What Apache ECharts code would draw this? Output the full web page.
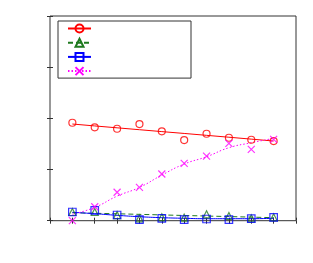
<!DOCTYPE html>
<html><head><meta charset="utf-8">
<script src="https://cdn.jsdelivr.net/npm/echarts@6/dist/echarts.min.js"></script>
<style>html,body{margin:0;padding:0;background:#fff}#c{width:313px;height:263px}</style>
</head><body><div id="c"></div>
<script>
const xs = [1,2,3,4,5,6,7,8,9,10];
const redPts = [1.914,1.824,1.797,1.889,1.746,1.576,1.699,1.621,1.582,1.556];
const redFit = [1.889,1.852,1.815,1.778,1.741,1.705,1.668,1.631,1.594,1.557];
const greenPts = [0.17,0.17,0.11,0.047,0.066,0.059,0.125,0.092,0.047,0.066];
const greenFit = [0.156,0.145,0.135,0.124,0.113,0.102,0.091,0.081,0.07,0.059];
const bluePts = [0.17,0.203,0.111,0.02,0.047,0.02,0.033,0.02,0.039,0.066];
const blueFit = [0.164,0.137,0.105,0.078,0.059,0.047,0.039,0.039,0.039,0.047];
const magPts = [0,0.273,0.555,0.652,0.912,1.12,1.263,1.511,1.394,1.589];
const magFit = [0.125,0.26,0.48,0.651,0.891,1.107,1.25,1.426,1.523,1.609];
const names = ['a','b','c','d'];

const pair = arr => xs.map((x,i)=>[x,arr[i]]);
const chart = echarts.init(document.getElementById('c'));
const groups = [
  {name:names[0], color:'#ff0000', sym:'circle', size:7, pts:redPts, fit:redFit, type:'solid', smooth:false},
  {name:names[1], color:'#1f7a1f', sym:'triangle', size:7, pts:greenPts, fit:greenFit, type:[5,3], smooth:false},
  {name:names[2], color:'#0000ff', sym:'rect', size:7.5, pts:bluePts, fit:blueFit, type:'solid', smooth:true},
  {name:names[3], color:'#ff00ff', sym:'path://M0,0L10,10M10,0L0,10', size:7, pts:magPts, fit:magFit, type:[1.5,2], smooth:true}
];
const series = [];
groups.forEach(g=>{
  series.push({name:g.name, type:'line', data:pair(g.fit), showSymbol:false, symbol:g.sym, symbolSize:g.size,
    smooth:g.smooth, lineStyle:{color:g.color,width:1,type:g.type},
    itemStyle:{color:'transparent',borderColor:g.color,borderWidth:1}, silent:true, z:2});
  series.push({name:g.name+'_m', type:'scatter', data:pair(g.pts), symbol:g.sym, symbolSize:g.size,
    itemStyle:{color:'transparent',borderColor:g.color,borderWidth:1.2}, z:3});
});
chart.setOption({
  animation:false,
  grid:{left:50, top:16, width:246, height:204.7, show:true, borderColor:'#333', borderWidth:1, backgroundColor:'transparent'},
  legend:{data:names, orient:'vertical', left:58, top:21, itemWidth:23, itemHeight:10, itemGap:4.2,
    padding:[2.5,99,2,9], borderColor:'#333', borderWidth:1, backgroundColor:'#fff',
    formatter:()=>'', textStyle:{fontSize:6}, selectedMode:false},
  xAxis:[
    {type:'value', min:0, max:11, interval:1, axisLine:{show:false}, axisLabel:{show:false}, splitLine:{show:false},
     axisTick:{show:true, inside:true, length:3, lineStyle:{color:'#333'}}},
    {type:'value', position:'top', min:0, max:11, interval:1, axisLine:{show:false}, axisLabel:{show:false}, splitLine:{show:false},
     axisTick:{show:true, inside:true, length:3, lineStyle:{color:'#333'}}}
  ],
  yAxis:[
    {type:'value', min:0, max:4, interval:1, axisLine:{show:false}, axisLabel:{show:false}, splitLine:{show:false},
     axisTick:{show:true, inside:true, length:3, lineStyle:{color:'#333'}}},
    {type:'value', position:'right', min:0, max:4, interval:1, axisLine:{show:false}, axisLabel:{show:false}, splitLine:{show:false},
     axisTick:{show:true, inside:true, length:3, lineStyle:{color:'#333'}}}
  ],
  series
});
</script></body></html>
